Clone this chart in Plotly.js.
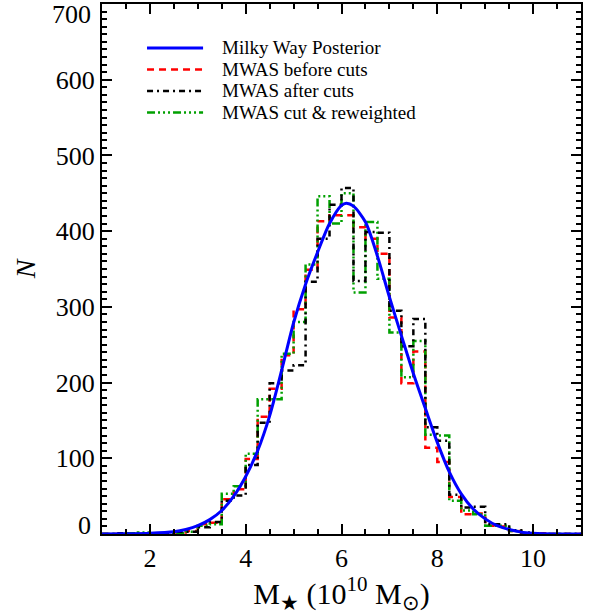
<!DOCTYPE html>
<html lang="en">
<head>
  <meta charset="UTF-8" />
  <title>Milky Way stellar mass histogram</title>
  <script src="https://cdn.plot.ly/plotly-3.0.1.min.js"></script>
  <style>
    body { margin: 0; background: #fff; }
    #chart { width: 598px; height: 615px; }
  </style>
</head>
<body>
  <div id="chart"></div>
<script>
  // histogram bins: left edge of first bin and bin width (10^10 Msun)
  const binStart = 1.0;
  const binWidth = 0.25;

  // counts per bin
  const beforeCuts = [0, 0, 0, 0, 0, 1, 2, 4, 13, 15, 46, 59, 99, 155, 192, 236, 297, 349, 413, 421,
                      421, 405, 390, 370, 286, 199, 241, 114, 95, 49, 26, 27, 11, 10, 4, 1, 1, 0, 0, 0];
  const afterCuts = [0, 1, 0, 0, 1, 0, 3, 3, 9, 16, 44, 51, 91, 147, 199, 216, 223, 333, 390, 435,
                     457, 334, 399, 398, 295, 248, 284, 141, 123, 52, 35, 36, 13, 13, 5, 2, 0, 0, 0, 0];
  const reweighted = [0, 0, 1, 2, 0, 0, 1, 3, 11, 13, 53, 63, 106, 178, 178, 238, 280, 356, 446, 410,
                      450, 319, 412, 337, 266, 207, 255, 131, 130, 44, 31, 26, 11, 11, 4, 1, 0, 0, 0, 0];

  // posterior curve, sampled points
  const postMass = [1.0, 1.5, 2.0, 2.5, 2.75, 3.0, 3.25, 3.5, 3.75, 4.0, 4.25, 4.5, 4.75, 5.0, 5.25, 5.5,
                    5.75, 6.0, 6.1, 6.25, 6.5, 6.75, 7.0, 7.25, 7.5, 7.75, 8.0, 8.25, 8.5, 8.75, 9.0,
                    9.25, 9.5, 9.75, 10.0, 10.5, 11.0];
  const postN = [0, 0.3, 1, 3, 6, 11, 19, 31, 50, 76, 110, 156, 216, 279, 330, 372,
                 410, 434, 437, 433, 412, 367, 313, 262, 212, 166, 121, 82, 53, 33, 20,
                 11, 6, 2.5, 1, 0, 0];

  const yTicks = [100, 200, 300, 400, 500, 600];

  const series = [
    { name: 'Milky Way Posterior', color: '#0000ff', dash: 'solid', width: 3 },
    { name: 'MWAS before cuts', color: '#ff0000', dash: '7px,5px', width: 2.5, counts: beforeCuts },
    { name: 'MWAS after cuts', color: '#000000', dash: '6px,4px,2px,4px', width: 2.5, counts: afterCuts },
    { name: 'MWAS cut &amp; reweighted', color: '#00a000', dash: '8px,3px,2px,3px,2px,3px,2px,3px', width: 2.5, counts: reweighted }
  ];

  function stepTrace(s) {
    const x = s.counts.map((_, i) => binStart + i * binWidth);
    x.push(binStart + s.counts.length * binWidth);
    const y = s.counts.concat([s.counts[s.counts.length - 1]]);
    return {
      x: x, y: y, name: s.name, type: 'scatter', mode: 'lines',
      line: { shape: 'hv', color: s.color, width: s.width, dash: s.dash }
    };
  }

  const traces = [
    stepTrace(series[1]),
    stepTrace(series[3]),
    stepTrace(series[2]),
    {
      x: postMass, y: postN, name: series[0].name, type: 'scatter', mode: 'lines',
      line: { shape: 'spline', smoothing: 0.8, color: series[0].color, width: series[0].width }
    }
  ];

  // hand-drawn legend, IDL style: long line samples, tight rows
  const legTop = 0.917, legStep = 0.0405;
  const shapes = [], annotations = [];
  series.forEach((s, i) => {
    const yy = legTop - i * legStep;
    shapes.push({
      type: 'line', xref: 'paper', yref: 'paper', x0: 0.094, x1: 0.211, y0: yy, y1: yy,
      line: { color: s.color, width: s.width, dash: s.dash }
    });
    annotations.push({
      xref: 'paper', yref: 'paper', x: 0.246, y: yy, xanchor: 'left', yanchor: 'middle',
      text: s.name, showarrow: false, font: { size: 19 }
    });
  });
  // end labels of the y axis sit inside the frame, like the original
  annotations.push({ xref: 'paper', yref: 'y', x: 0, y: 0, xanchor: 'right', yanchor: 'middle',
    xshift: -9, yshift: 9, text: '0', showarrow: false, font: { size: 26 } });
  annotations.push({ xref: 'paper', yref: 'y', x: 0, y: 700, xanchor: 'right', yanchor: 'middle',
    xshift: -9, yshift: -10, text: '700', showarrow: false, font: { size: 26 } });

  const axisCommon = {
    showline: true, linewidth: 2, linecolor: '#000', mirror: 'allticks',
    ticks: 'inside', ticklen: 10, tickwidth: 2, tickcolor: '#000',
    showgrid: false, zeroline: false,
    tickfont: { size: 26 }
  };

  const layout = {
    width: 598, height: 615,
    margin: { l: 102, r: 17, t: 4, b: 81 },
    paper_bgcolor: '#fff', plot_bgcolor: '#fff',
    font: { family: 'Liberation Serif, Times New Roman, serif', color: '#000' },
    xaxis: Object.assign({}, axisCommon, {
      range: [1, 11], tick0: 0, dtick: 2,
      minor: { dtick: 0.5, ticks: 'inside', ticklen: 5, tickwidth: 2, tickcolor: '#000' },
      title: { text: 'M<sub>★</sub> (10<sup>10</sup> M<sub>⊙</sub>)', font: { size: 30 }, standoff: 8 }
    }),
    yaxis: Object.assign({}, axisCommon, {
      range: [0, 700], tickmode: 'array', tickvals: yTicks,
      minor: { tick0: 0, dtick: 10, ticks: 'inside', ticklen: 5, tickwidth: 2, tickcolor: '#000' },
      title: { text: '<i>N</i>', font: { size: 28 }, standoff: 12 }
    }),
    showlegend: false,
    shapes: shapes,
    annotations: annotations
  };

  Plotly.newPlot('chart', traces, layout, { displayModeBar: false, staticPlot: true });
</script>
</body>
</html>
